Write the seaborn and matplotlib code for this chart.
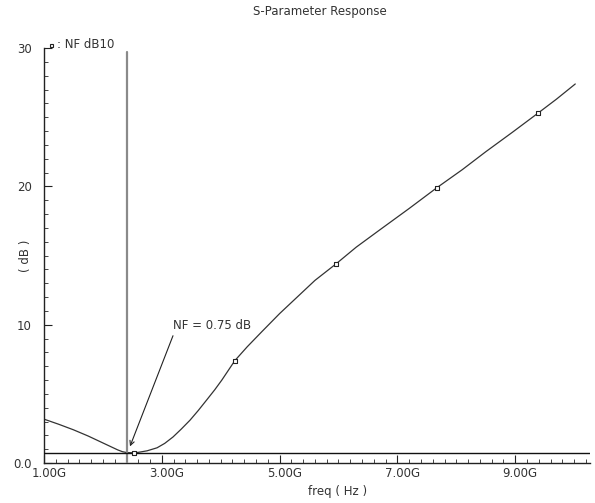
import matplotlib
matplotlib.use("Agg")
import matplotlib.pyplot as plt
import matplotlib.transforms as mtransforms
import seaborn as sns
import pandas as pd
from matplotlib.ticker import FixedLocator, MultipleLocator

# Data
freq_ghz = [1.0, 1.25, 1.5, 1.75, 2.0, 2.15, 2.25, 2.33, 2.41, 2.5, 2.6, 2.75,
            2.92, 3.05, 3.19, 3.33, 3.48, 3.62, 3.77, 3.9, 4.02, 4.13, 4.24,
            4.45, 4.70, 5.0, 5.30, 5.6, 5.96, 6.3, 6.70, 7.2, 7.67, 8.1, 8.5,
            8.95, 9.39, 9.7, 10.02]
nf_db = [3.17, 2.8, 2.4, 1.95, 1.45, 1.15, 0.95, 0.82, 0.75, 0.74, 0.77, 0.88,
         1.1, 1.42, 1.88, 2.45, 3.1, 3.8, 4.6, 5.3, 6.0, 6.7, 7.4,
         8.4, 9.5, 10.8, 12.0, 13.2, 14.4, 15.6, 16.85, 18.4, 19.9, 21.2, 22.5,
         23.9, 25.3, 26.3, 27.4]
marker_freq = [2.52, 4.24, 5.96, 7.67, 9.39]
marker_nf = [0.74, 7.4, 14.4, 19.9, 25.3]
x_tick_vals = [1, 3, 5, 7, 9]
x_tick_labels = ["1.00G", "3.00G", "5.00G", "7.00G", "9.00G"]
y_tick_vals = [0, 10, 20, 30]
y_tick_labels = ["0.0", "10", "20", "30"]
marker_x = 2.41
nf_min = 0.75

sns.set_style("white")
plt.rcParams['font.family'] = ['DejaVu Sans']

fig = plt.figure(figsize=(5.95, 5.03), dpi=100)
ax = fig.add_axes([44/595, 1-463/503, (590-44)/595, (463-48)/503])

df = pd.DataFrame({"freq": freq_ghz, "nf": nf_db})
sns.lineplot(data=df, x="freq", y="nf", ax=ax, color="#333333", linewidth=0.9,
             sort=True, estimator=None)
mk = pd.DataFrame({"freq": marker_freq, "nf": marker_nf})
sns.scatterplot(data=mk, x="freq", y="nf", ax=ax, marker="s", s=8,
                facecolor="white", edgecolor="#222222", linewidth=0.8, zorder=4)

ax.plot([marker_x, marker_x], [0, 29.7], color="#8a8a8a", linewidth=1.6,
        zorder=3)
ax.axhline(nf_min, color="#111111", linewidth=1.0, zorder=3)

ax.annotate("", xy=(2.46, 1.2), xytext=(3.19, 9.2),
            arrowprops=dict(arrowstyle="->", lw=0.8, color="#222222",
                            shrinkA=0, shrinkB=0, mutation_scale=8))
ax.text(3.19, 9.95, "NF = 0.75 dB", ha="left", va="center", fontsize=8.5,
        color="#333333")

ax.set_xlim(1.0, 10.27)
ax.set_ylim(0, 30)
for s in ["top", "right"]:
    ax.spines[s].set_visible(False)
for s in ["left", "bottom"]:
    ax.spines[s].set_color("#222222")
    ax.spines[s].set_linewidth(1.0)

ax.xaxis.set_major_locator(FixedLocator(x_tick_vals))
ax.set_xticklabels(x_tick_labels)
ax.xaxis.set_minor_locator(MultipleLocator(0.2))
ax.yaxis.set_major_locator(FixedLocator(y_tick_vals))
ax.set_yticklabels(y_tick_labels)
ax.yaxis.set_minor_locator(MultipleLocator(1))
ax.tick_params(axis="both", which="major", direction="in", length=6, width=0.8,
               color="#222222", labelsize=8.5, labelcolor="#333333")
ax.tick_params(axis="both", which="minor", direction="in", length=3, width=0.7,
               color="#444444")
ax.tick_params(axis="x", which="major", pad=3, bottom=True)
ax.tick_params(axis="x", which="minor", bottom=True)
ax.tick_params(axis="y", which="major", pad=9, left=True)
ax.tick_params(axis="y", which="minor", left=True)
offset = mtransforms.ScaledTranslation(5/100, 0, fig.dpi_scale_trans)
for lab in ax.get_xticklabels():
    lab.set_transform(lab.get_transform() + offset)
ax.set_xlabel("")
ax.set_ylabel("")
ax.grid(False)

fig.text(320/595, 1-12/503, "S-Parameter Response", ha="center", va="center",
         fontsize=8.5, color="#333333")
fig.text(338/595, 1-491/503, "freq ( Hz )", ha="center", va="center",
         fontsize=8.5, color="#333333")
fig.text(25/595, 1-256/503, "( dB )", ha="center", va="center", rotation=90,
         fontsize=8.5, color="#333333")
fig.text(57/595, 1-44/503, ": NF dB10", ha="left", va="center", fontsize=8.5,
         color="#333333")
fig.patches.append(plt.Rectangle((50/595, 1-47/503), 3/595, 3/503,
                                 transform=fig.transFigure, fill=False,
                                 edgecolor="#222222", linewidth=0.8))

fig.savefig("out.png", dpi=100, facecolor="white")
